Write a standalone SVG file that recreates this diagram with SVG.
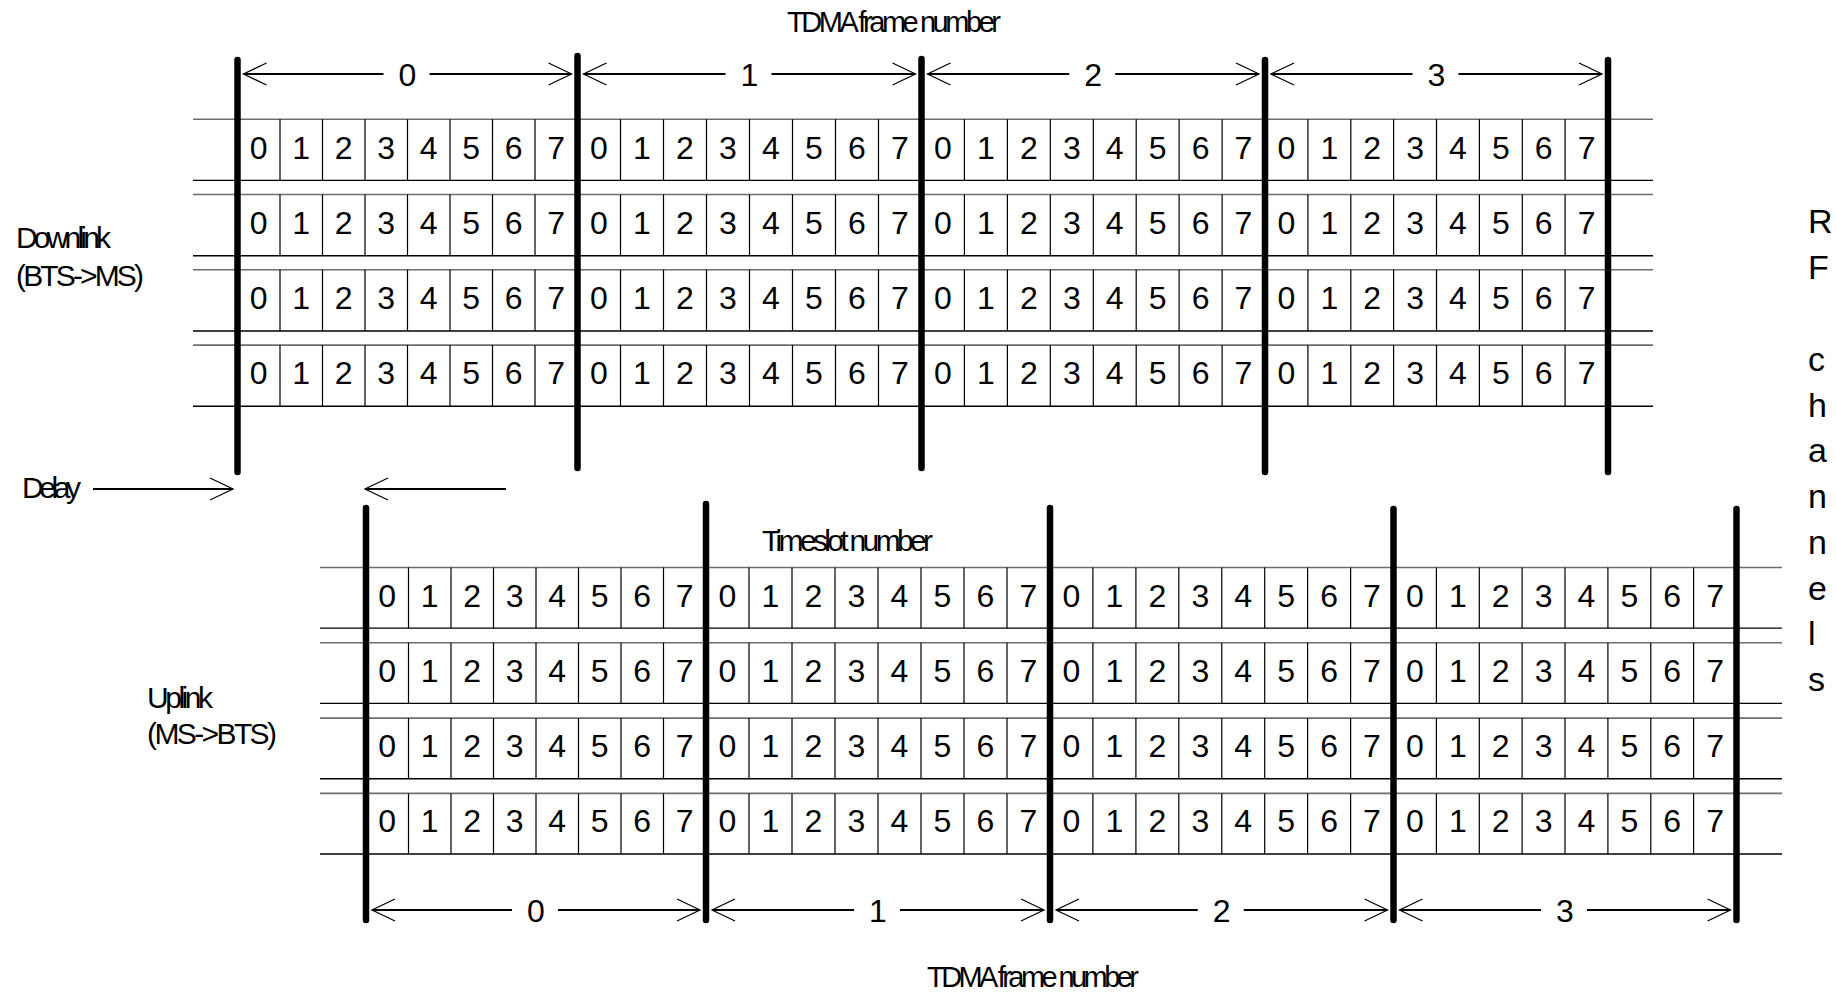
<svg xmlns="http://www.w3.org/2000/svg" width="1836" height="994" viewBox="0 0 1836 994">
<defs>
<style>
.t{font-family:"Liberation Sans",Arial,Helvetica,sans-serif;fill:#000}
.d{font-size:32px;text-anchor:middle}
.lbl{font-size:30px}
.rt{stroke:#6e6e6e;stroke-width:1.6;fill:none}
.rb{stroke:#000;stroke-width:1.4;fill:none}
.sepT{stroke:#000;stroke-width:1.2;stroke-dasharray:61.2 14.1}
.sepB{stroke:#000;stroke-width:1.2;stroke-dasharray:60.6 14.7}
.bar{stroke:#000;stroke-width:6.5;stroke-linecap:round}
.arr{stroke:#000;stroke-width:2;fill:none;marker-end:url(#ah)}
</style>
<marker id="ah" markerUnits="userSpaceOnUse" markerWidth="26" markerHeight="26" refX="24" refY="13" orient="auto" viewBox="0 0 26 26">
<path d="M1,2 L24,13 L1,24" fill="none" stroke="#000" stroke-width="1.2"/>
</marker>
</defs>
<rect width="1836" height="994" fill="#fff"/>

<g id="downlink-frames">
<g id="downlink-rowlines">
<line class="rt" x1="193" y1="119.2" x2="1653" y2="119.2"/>
<line class="rb" x1="193" y1="180.4" x2="1653" y2="180.4"/>
<line class="rt" x1="193" y1="194.5" x2="1653" y2="194.5"/>
<line class="rb" x1="193" y1="255.7" x2="1653" y2="255.7"/>
<line class="rt" x1="193" y1="269.8" x2="1653" y2="269.8"/>
<line class="rb" x1="193" y1="331" x2="1653" y2="331"/>
<line class="rt" x1="193" y1="345.1" x2="1653" y2="345.1"/>
<line class="rb" x1="193" y1="406.3" x2="1653" y2="406.3"/>
</g>
<g id="downlink-slots">
<line class="sepT" x1="280" y1="119.2" x2="280" y2="406.3"/>
<line class="sepT" x1="322.5" y1="119.2" x2="322.5" y2="406.3"/>
<line class="sepT" x1="365" y1="119.2" x2="365" y2="406.3"/>
<line class="sepT" x1="407.5" y1="119.2" x2="407.5" y2="406.3"/>
<line class="sepT" x1="450" y1="119.2" x2="450" y2="406.3"/>
<line class="sepT" x1="492.5" y1="119.2" x2="492.5" y2="406.3"/>
<line class="sepT" x1="535" y1="119.2" x2="535" y2="406.3"/>
<line class="sepT" x1="620.5" y1="119.2" x2="620.5" y2="406.3"/>
<line class="sepT" x1="663.5" y1="119.2" x2="663.5" y2="406.3"/>
<line class="sepT" x1="706.5" y1="119.2" x2="706.5" y2="406.3"/>
<line class="sepT" x1="749.5" y1="119.2" x2="749.5" y2="406.3"/>
<line class="sepT" x1="792.5" y1="119.2" x2="792.5" y2="406.3"/>
<line class="sepT" x1="835.5" y1="119.2" x2="835.5" y2="406.3"/>
<line class="sepT" x1="878.5" y1="119.2" x2="878.5" y2="406.3"/>
<line class="sepT" x1="964.4" y1="119.2" x2="964.4" y2="406.3"/>
<line class="sepT" x1="1007.4" y1="119.2" x2="1007.4" y2="406.3"/>
<line class="sepT" x1="1050.3" y1="119.2" x2="1050.3" y2="406.3"/>
<line class="sepT" x1="1093.3" y1="119.2" x2="1093.3" y2="406.3"/>
<line class="sepT" x1="1136.2" y1="119.2" x2="1136.2" y2="406.3"/>
<line class="sepT" x1="1179.1" y1="119.2" x2="1179.1" y2="406.3"/>
<line class="sepT" x1="1222.1" y1="119.2" x2="1222.1" y2="406.3"/>
<line class="sepT" x1="1307.9" y1="119.2" x2="1307.9" y2="406.3"/>
<line class="sepT" x1="1350.8" y1="119.2" x2="1350.8" y2="406.3"/>
<line class="sepT" x1="1393.6" y1="119.2" x2="1393.6" y2="406.3"/>
<line class="sepT" x1="1436.5" y1="119.2" x2="1436.5" y2="406.3"/>
<line class="sepT" x1="1479.4" y1="119.2" x2="1479.4" y2="406.3"/>
<line class="sepT" x1="1522.3" y1="119.2" x2="1522.3" y2="406.3"/>
<line class="sepT" x1="1565.1" y1="119.2" x2="1565.1" y2="406.3"/>
</g>
<g id="downlink-digits" class="t d">
<text x="258.75 301.25 343.75 386.25 428.75 471.25 513.75 556.25 599 642 685 728 771 814 857 900 943 985.9 1028.8 1071.8 1114.7 1157.7 1200.6 1243.5 1286.4 1329.3 1372.2 1415.1 1457.9 1500.8 1543.7 1586.6" y="158.5">01234567012345670123456701234567</text>
<text x="258.75 301.25 343.75 386.25 428.75 471.25 513.75 556.25 599 642 685 728 771 814 857 900 943 985.9 1028.8 1071.8 1114.7 1157.7 1200.6 1243.5 1286.4 1329.3 1372.2 1415.1 1457.9 1500.8 1543.7 1586.6" y="233.8">01234567012345670123456701234567</text>
<text x="258.75 301.25 343.75 386.25 428.75 471.25 513.75 556.25 599 642 685 728 771 814 857 900 943 985.9 1028.8 1071.8 1114.7 1157.7 1200.6 1243.5 1286.4 1329.3 1372.2 1415.1 1457.9 1500.8 1543.7 1586.6" y="309.1">01234567012345670123456701234567</text>
<text x="258.75 301.25 343.75 386.25 428.75 471.25 513.75 556.25 599 642 685 728 771 814 857 900 943 985.9 1028.8 1071.8 1114.7 1157.7 1200.6 1243.5 1286.4 1329.3 1372.2 1415.1 1457.9 1500.8 1543.7 1586.6" y="384.4">01234567012345670123456701234567</text>
</g>
<g id="downlink-frame-bars">
<line class="bar" x1="237.5" y1="60" x2="237.5" y2="472"/>
<line class="bar" x1="577.5" y1="56" x2="577.5" y2="468"/>
<line class="bar" x1="921.5" y1="59" x2="921.5" y2="468"/>
<line class="bar" x1="1265" y1="60" x2="1265" y2="472"/>
<line class="bar" x1="1608" y1="60" x2="1608" y2="472"/>
</g>
</g>

<g id="uplink-frames">
<g id="uplink-rowlines">
<line class="rt" x1="320" y1="567.5" x2="1782" y2="567.5"/>
<line class="rb" x1="320" y1="628.1" x2="1782" y2="628.1"/>
<line class="rt" x1="320" y1="642.8" x2="1782" y2="642.8"/>
<line class="rb" x1="320" y1="703.4" x2="1782" y2="703.4"/>
<line class="rt" x1="320" y1="718.1" x2="1782" y2="718.1"/>
<line class="rb" x1="320" y1="778.7" x2="1782" y2="778.7"/>
<line class="rt" x1="320" y1="793.4" x2="1782" y2="793.4"/>
<line class="rb" x1="320" y1="854" x2="1782" y2="854"/>
</g>
<g id="uplink-slots">
<line class="sepB" x1="408.5" y1="567.5" x2="408.5" y2="854"/>
<line class="sepB" x1="451" y1="567.5" x2="451" y2="854"/>
<line class="sepB" x1="493.5" y1="567.5" x2="493.5" y2="854"/>
<line class="sepB" x1="536" y1="567.5" x2="536" y2="854"/>
<line class="sepB" x1="578.5" y1="567.5" x2="578.5" y2="854"/>
<line class="sepB" x1="621" y1="567.5" x2="621" y2="854"/>
<line class="sepB" x1="663.5" y1="567.5" x2="663.5" y2="854"/>
<line class="sepB" x1="749" y1="567.5" x2="749" y2="854"/>
<line class="sepB" x1="792" y1="567.5" x2="792" y2="854"/>
<line class="sepB" x1="835" y1="567.5" x2="835" y2="854"/>
<line class="sepB" x1="878" y1="567.5" x2="878" y2="854"/>
<line class="sepB" x1="921" y1="567.5" x2="921" y2="854"/>
<line class="sepB" x1="964" y1="567.5" x2="964" y2="854"/>
<line class="sepB" x1="1007" y1="567.5" x2="1007" y2="854"/>
<line class="sepB" x1="1092.9" y1="567.5" x2="1092.9" y2="854"/>
<line class="sepB" x1="1135.9" y1="567.5" x2="1135.9" y2="854"/>
<line class="sepB" x1="1178.8" y1="567.5" x2="1178.8" y2="854"/>
<line class="sepB" x1="1221.8" y1="567.5" x2="1221.8" y2="854"/>
<line class="sepB" x1="1264.7" y1="567.5" x2="1264.7" y2="854"/>
<line class="sepB" x1="1307.6" y1="567.5" x2="1307.6" y2="854"/>
<line class="sepB" x1="1350.6" y1="567.5" x2="1350.6" y2="854"/>
<line class="sepB" x1="1436.4" y1="567.5" x2="1436.4" y2="854"/>
<line class="sepB" x1="1479.3" y1="567.5" x2="1479.3" y2="854"/>
<line class="sepB" x1="1522.1" y1="567.5" x2="1522.1" y2="854"/>
<line class="sepB" x1="1565" y1="567.5" x2="1565" y2="854"/>
<line class="sepB" x1="1607.9" y1="567.5" x2="1607.9" y2="854"/>
<line class="sepB" x1="1650.8" y1="567.5" x2="1650.8" y2="854"/>
<line class="sepB" x1="1693.6" y1="567.5" x2="1693.6" y2="854"/>
</g>
<g id="uplink-digits" class="t d">
<text x="387.25 429.75 472.25 514.75 557.25 599.75 642.25 684.75 727.5 770.5 813.5 856.5 899.5 942.5 985.5 1028.5 1071.5 1114.4 1157.3 1200.3 1243.2 1286.2 1329.1 1372 1414.9 1457.8 1500.7 1543.6 1586.4 1629.3 1672.2 1715.1" y="606.5">01234567012345670123456701234567</text>
<text x="387.25 429.75 472.25 514.75 557.25 599.75 642.25 684.75 727.5 770.5 813.5 856.5 899.5 942.5 985.5 1028.5 1071.5 1114.4 1157.3 1200.3 1243.2 1286.2 1329.1 1372 1414.9 1457.8 1500.7 1543.6 1586.4 1629.3 1672.2 1715.1" y="681.8">01234567012345670123456701234567</text>
<text x="387.25 429.75 472.25 514.75 557.25 599.75 642.25 684.75 727.5 770.5 813.5 856.5 899.5 942.5 985.5 1028.5 1071.5 1114.4 1157.3 1200.3 1243.2 1286.2 1329.1 1372 1414.9 1457.8 1500.7 1543.6 1586.4 1629.3 1672.2 1715.1" y="757.1">01234567012345670123456701234567</text>
<text x="387.25 429.75 472.25 514.75 557.25 599.75 642.25 684.75 727.5 770.5 813.5 856.5 899.5 942.5 985.5 1028.5 1071.5 1114.4 1157.3 1200.3 1243.2 1286.2 1329.1 1372 1414.9 1457.8 1500.7 1543.6 1586.4 1629.3 1672.2 1715.1" y="832.4">01234567012345670123456701234567</text>
</g>
<g id="uplink-frame-bars">
<line class="bar" x1="366" y1="508" x2="366" y2="920"/>
<line class="bar" x1="706" y1="504" x2="706" y2="920"/>
<line class="bar" x1="1050" y1="508" x2="1050" y2="920"/>
<line class="bar" x1="1393.5" y1="509" x2="1393.5" y2="920"/>
<line class="bar" x1="1736.5" y1="509" x2="1736.5" y2="920"/>
</g>
</g>

<g id="connectors">
<path class="arr" d="M383.5 74H243.5"/>
<path class="arr" d="M429.5 74H571.5"/>
<path class="arr" d="M725.5 74H583.5"/>
<path class="arr" d="M771.5 74H915.5"/>
<path class="arr" d="M1069.25 74H927.5"/>
<path class="arr" d="M1115.25 74H1259"/>
<path class="arr" d="M1412.5 74H1271"/>
<path class="arr" d="M1458.5 74H1602"/>
<path class="arr" d="M93 489H233"/>
<path class="arr" d="M506 489H365"/>
<path class="arr" d="M512 910H372"/>
<path class="arr" d="M558 910H700"/>
<path class="arr" d="M854 910H712"/>
<path class="arr" d="M900 910H1044"/>
<path class="arr" d="M1197.75 910H1056"/>
<path class="arr" d="M1243.75 910H1387.5"/>
<path class="arr" d="M1541 910H1399.5"/>
<path class="arr" d="M1587 910H1730.5"/>
</g>

<g id="frame-number-labels" class="t d">
<text x="407.5" y="85.5">0</text>
<text x="749.5" y="85.5">1</text>
<text x="1093.25" y="85.5">2</text>
<text x="1436.5" y="85.5">3</text>
<text x="536" y="921.5">0</text>
<text x="878" y="921.5">1</text>
<text x="1221.75" y="921.5">2</text>
<text x="1565" y="921.5">3</text>
</g>

<g id="labels" class="t lbl">
<text x="787" y="32" font-size="29" textLength="214" lengthAdjust="spacing">TDMA frame number</text>
<text x="927" y="987" font-size="29" textLength="212" lengthAdjust="spacing">TDMA frame number</text>
<text x="762" y="551" textLength="171" lengthAdjust="spacing">Timeslot number</text>
<text x="16" y="248" textLength="95" lengthAdjust="spacing">Downlink</text>
<text x="16" y="286" textLength="128" lengthAdjust="spacing">(BTS-&gt;MS)</text>
<text x="22" y="498" textLength="59" lengthAdjust="spacing">Delay</text>
<text x="147" y="708" textLength="66" lengthAdjust="spacing">Uplink</text>
<text x="147" y="744" textLength="130" lengthAdjust="spacing">(MS-&gt;BTS)</text>
<text font-size="34"><tspan x="1808" y="233">R</tspan><tspan x="1808" y="279">F</tspan> <tspan x="1808" y="371">c</tspan><tspan x="1808" y="416.5">h</tspan><tspan x="1808" y="462">a</tspan><tspan x="1808" y="508">n</tspan><tspan x="1808" y="554">n</tspan><tspan x="1808" y="599.5">e</tspan><tspan x="1808" y="645">l</tspan><tspan x="1808" y="691">s</tspan></text>
</g>
</svg>
